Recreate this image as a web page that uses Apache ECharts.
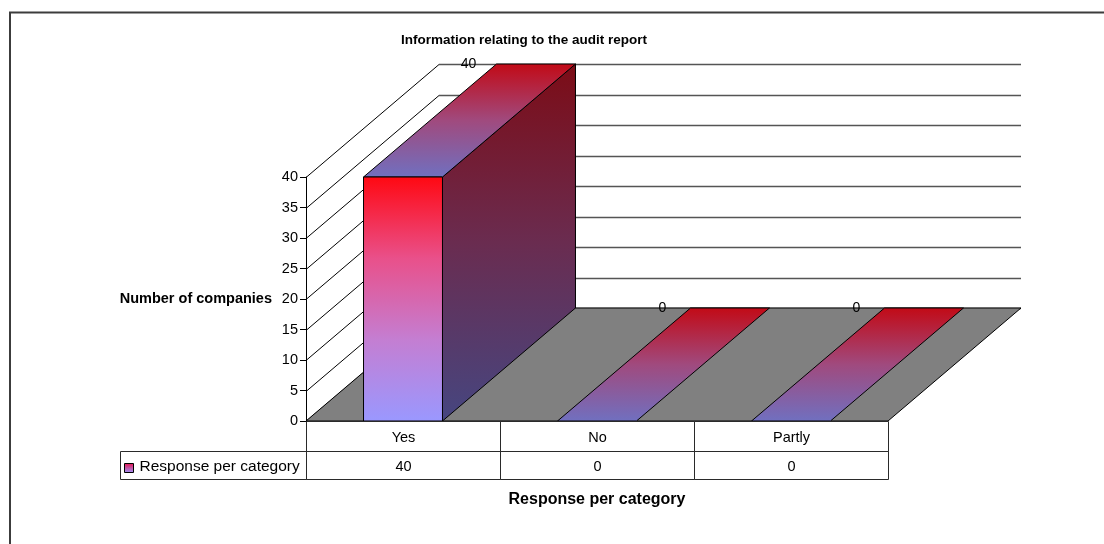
<!DOCTYPE html>
<html>
<head>
<meta charset="utf-8">
<title>Information relating to the audit report</title>
<script src="https://cdn.jsdelivr.net/npm/echarts@6/dist/echarts.min.js"></script>
<style>
  html, body { margin: 0; padding: 0; background: #ffffff; }
  #chart { width: 1104px; height: 544px; }
</style>
</head>
<body>
<div id="chart"></div>
<script>
// ---- data ----
const categories = ['Yes', 'No', 'Partly'];
const responses = [40, 0, 0];
const yTicks = [0, 5, 10, 15, 20, 25, 30, 35, 40];
const seriesName = 'Response per category';
const chartTitle = 'Information relating to the audit report';
const yAxisTitle = 'Number of companies';
const xAxisTitle = 'Response per category';

// ---- 3D look ----
const FONT = '"Liberation Sans", Arial, Helvetica, sans-serif';
const DEPTH = [133, -113];          // oblique depth offset of the back plane
const BAR_RATIO = 0.407;            // bar width as a share of the category band
const ROW1_H = 30, ROW2_H = 28;     // data table rows
const LEGEND_CELL_W = 186;

const grad = (stops) => new echarts.graphic.LinearGradient(0, 0, 0, 1,
  stops.map((c, i) => ({ offset: i / (stops.length - 1), color: c })));

const frontFill = () => grad(['#ff0812', '#e9508a', '#c47ed2', '#9a98ff']);
const sideFill  = () => grad(['#7c0c16', '#6a2c50', '#464680']);
const topFill   = () => grad(['#c20a16', '#a04a7e', '#7070c0']);

function renderWalls(params, api) {
  const cs = params.coordSys;
  const x0 = cs.x, x1 = cs.x + cs.width;
  const yt = cs.y, yb = cs.y + cs.height;
  const [dx, dy] = DEPTH;
  const children = [];
  // back wall and left side wall
  children.push({ type: 'polygon', shape: { points: [[x0 + dx, yt + dy], [x1 + dx, yt + dy], [x1 + dx, yb + dy], [x0 + dx, yb + dy]] },
    style: { fill: '#ffffff' } });
  children.push({ type: 'polygon', shape: { points: [[x0, yb], [x0, yt], [x0 + dx, yt + dy], [x0 + dx, yb + dy]] },
    style: { fill: '#ffffff' } });
  yTicks.forEach(t => {
    const y = Math.round(api.coord([0, t])[1]) + 0.5;
    children.push({ type: 'line', shape: { x1: x0, y1: y, x2: x0 + dx, y2: y + dy },
      style: { stroke: '#000000', lineWidth: 1 } });
    children.push({ type: 'line', shape: { x1: x0 + dx, y1: y + dy, x2: x1 + dx, y2: y + dy },
      style: { stroke: '#555555', lineWidth: 1.5 } });
  });
  // floor
  children.push({ type: 'polygon', shape: { points: [[x0, yb], [x1, yb], [x1 + dx, yb + dy], [x0 + dx, yb + dy]] },
    style: { fill: '#808080', stroke: '#000000', lineWidth: 1 } });
  return { type: 'group', children };
}

function renderBar(params, api) {
  const ci = api.value(0), v = api.value(1);
  const base = api.coord([ci, 0]);
  const top = api.coord([ci, v]);
  const half = api.size([1, 0])[0] * BAR_RATIO / 2;
  const l = base[0] - half, r = base[0] + half;
  const yb = base[1], yt = top[1];
  const [dx, dy] = DEPTH;
  const children = [];
  if (yb - yt > 0.5) {
    children.push({ type: 'polygon', shape: { points: [[r, yt], [r + dx, yt + dy], [r + dx, yb + dy], [r, yb]] },
      style: { fill: sideFill(), stroke: '#000000', lineWidth: 1 } });
  }
  children.push({ type: 'polygon', shape: { points: [[l, yt], [r, yt], [r + dx, yt + dy], [l + dx, yt + dy]] },
    style: { fill: topFill(), stroke: '#000000', lineWidth: 1 } });
  if (yb - yt > 0.5) {
    children.push({ type: 'rect', shape: { x: l, y: yt, width: r - l, height: yb - yt },
      style: { fill: frontFill(), stroke: '#000000', lineWidth: 1 } });
  }
  children.push({ type: 'text', x: base[0] + dx / 2 - 1, y: yt + dy,
    style: { text: String(v), fill: '#000000', font: '14px ' + FONT, align: 'center', verticalAlign: 'middle' } });
  return { type: 'group', children };
}

function renderTable(params, api) {
  const ci = api.value(0), v = api.value(1);
  const c = api.coord([ci, 0]);
  const bw = api.size([1, 0])[0];
  const l = Math.round(c[0] - bw / 2) + 0.5, r = Math.round(c[0] + bw / 2) + 0.5;
  const y0 = Math.round(c[1]) + 0.5, y1 = y0 + ROW1_H, y2 = y1 + ROW2_H;
  const line = { stroke: '#2a2a2a', lineWidth: 1, fill: null };
  const txt = (x, y, s) => ({ type: 'text', x, y,
    style: { text: s, fill: '#000000', font: '14.5px ' + FONT, align: 'center', verticalAlign: 'middle' } });
  const children = [
    { type: 'rect', shape: { x: l, y: y0, width: r - l, height: ROW1_H }, style: line },
    { type: 'rect', shape: { x: l, y: y1, width: r - l, height: ROW2_H }, style: line },
    txt((l + r) / 2, y0 + ROW1_H / 2 + 1, categories[ci]),
    txt((l + r) / 2, y1 + ROW2_H / 2 + 1, String(v))
  ];
  if (ci === 0) {
    const lx = l - LEGEND_CELL_W;
    children.push({ type: 'rect', shape: { x: lx, y: y1, width: LEGEND_CELL_W, height: ROW2_H }, style: line });
    children.push({ type: 'rect', shape: { x: lx + 4, y: y1 + 12, width: 9, height: 9 },
      style: { fill: grad(['#e8104a', '#9a98ff']), stroke: '#000000', lineWidth: 1 } });
    children.push({ type: 'text', x: lx + 19, y: y1 + ROW2_H / 2 + 1,
      style: { text: seriesName, fill: '#000000', font: '15.5px ' + FONT, align: 'left', verticalAlign: 'middle' } });
  }
  return { type: 'group', children };
}

const points = categories.map((c, i) => [i, responses[i]]);

const chart = echarts.init(document.getElementById('chart'), null, { renderer: 'canvas' });
chart.setOption({
  backgroundColor: '#ffffff',
  animation: false,
  grid: { left: 306, top: 177, width: 582, height: 244, containLabel: false },
  xAxis: {
    type: 'category',
    data: categories,
    axisLine: { show: false },
    axisTick: { show: false },
    axisLabel: { show: false },
    splitLine: { show: false },
    name: xAxisTitle,
    nameLocation: 'middle',
    nameGap: 71,
    nameTextStyle: { fontFamily: FONT, fontWeight: 'bold', fontSize: 16, color: '#000000' }
  },
  yAxis: {
    type: 'value',
    min: 0, max: 40, interval: 5,
    z: 10,
    axisLine: { show: true, lineStyle: { color: '#000000', width: 1 } },
    axisTick: { show: true, length: 6, lineStyle: { color: '#000000' } },
    axisLabel: { fontFamily: FONT, fontSize: 14.5, color: '#000000', margin: 8 },
    splitLine: { show: false },
    name: yAxisTitle,
    nameLocation: 'middle',
    nameRotate: 0,
    nameGap: 34,
    nameTextStyle: { fontFamily: FONT, fontWeight: 'bold', fontSize: 14.5, color: '#000000', align: 'right', verticalAlign: 'middle' }
  },
  graphic: [
    { type: 'polyline', silent: true, z: 100,
      shape: { points: [[10, 560], [10, 12.5], [1110, 12.5]] },
      style: { stroke: '#3c3c3c', lineWidth: 2, fill: null } },
    { type: 'text', x: 524, y: 40, silent: true, z: 100,
      style: { text: chartTitle, font: 'bold 13.5px ' + FONT, fill: '#000000', align: 'center', verticalAlign: 'middle' } }
  ],
  series: [
    { type: 'custom', name: 'walls', silent: true, z: 1, data: [[0, 0]], renderItem: renderWalls },
    { type: 'custom', name: seriesName, silent: true, z: 3, data: points, renderItem: renderBar },
    { type: 'custom', name: 'table', silent: true, z: 4, data: points, renderItem: renderTable }
  ]
});
</script>
</body>
</html>
